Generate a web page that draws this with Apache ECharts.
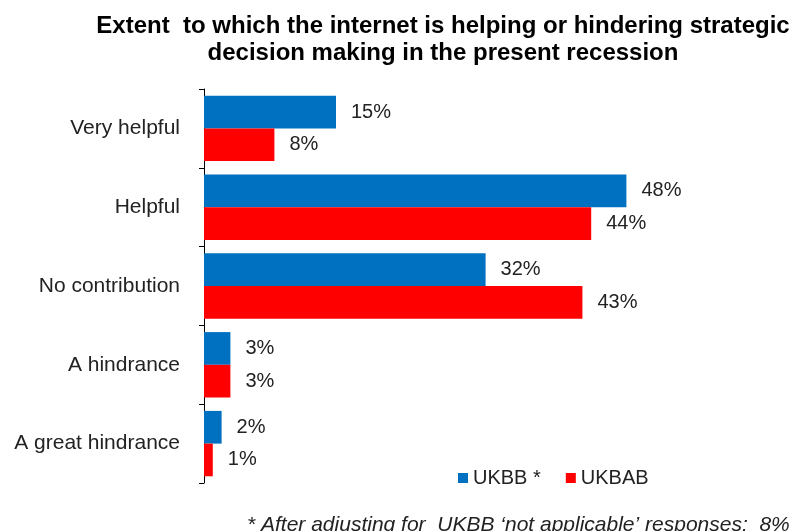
<!DOCTYPE html>
<html><head><meta charset="utf-8">
<script src="https://cdn.jsdelivr.net/npm/echarts@6/dist/echarts.min.js"></script>
<style>html,body{margin:0;padding:0;background:#fff}#c{width:794px;height:531px}</style>
</head><body><div id="c"></div>
<script>
const categories = ["Very helpful", "Helpful", "No contribution", "A hindrance", "A great hindrance"];
const ukbb = [15, 48, 32, 3, 2];
const ukbab = [8, 44, 43, 3, 1];
const seriesNames = ["UKBB *", "UKBAB"];
const titleText = "Extent  to which the internet is helping or hindering strategic\ndecision making in the present recession";
const footnote = "* After adjusting for  UKBB \u2018not applicable\u2019 responses:  8%";

const chart = echarts.init(document.getElementById('c'));
const lbl = {show: true, position: 'right', distance: 15, formatter: '{c}%', color: '#222', fontSize: 20, fontFamily: 'Liberation Sans, Arial'};
chart.setOption({
  animation: false,
  title: [
    {text: titleText, left: 438, top: 8, textAlign: 'center',
     textStyle: {fontSize: 24, fontWeight: 'bold', color: '#000', fontFamily: 'Liberation Sans, Arial', lineHeight: 27}},
    {text: footnote, left: 242, top: 510,
     textStyle: {fontSize: 21, fontStyle: 'italic', fontWeight: 'normal', color: '#222', fontFamily: 'Liberation Sans, Arial'}}
  ],
  legend: {left: 453, top: 463, icon: 'rect', itemWidth: 10, itemHeight: 10, itemGap: 25,
    textStyle: {fontSize: 20, color: '#222', fontFamily: 'Liberation Sans, Arial'}},
  grid: {left: 204, top: 89, width: 528, height: 394},
  xAxis: {type: 'value', min: 0, max: 60, show: false},
  yAxis: {type: 'category', data: categories, inverse: true,
    axisLine: {lineStyle: {color: '#000', width: 1}},
    axisTick: {show: true, length: 5, lineStyle: {color: '#000', width: 1}},
    axisLabel: {fontSize: 21, color: '#222', margin: 24, fontFamily: 'Liberation Sans, Arial'}},
  series: [
    {name: seriesNames[0], type: 'bar', data: ukbb, barGap: '0%', barCategoryGap: '17%', itemStyle: {color: '#0070C0'}, label: lbl},
    {name: seriesNames[1], type: 'bar', data: ukbab, itemStyle: {color: '#FF0000'}, label: lbl}
  ]
});
</script></body></html>
